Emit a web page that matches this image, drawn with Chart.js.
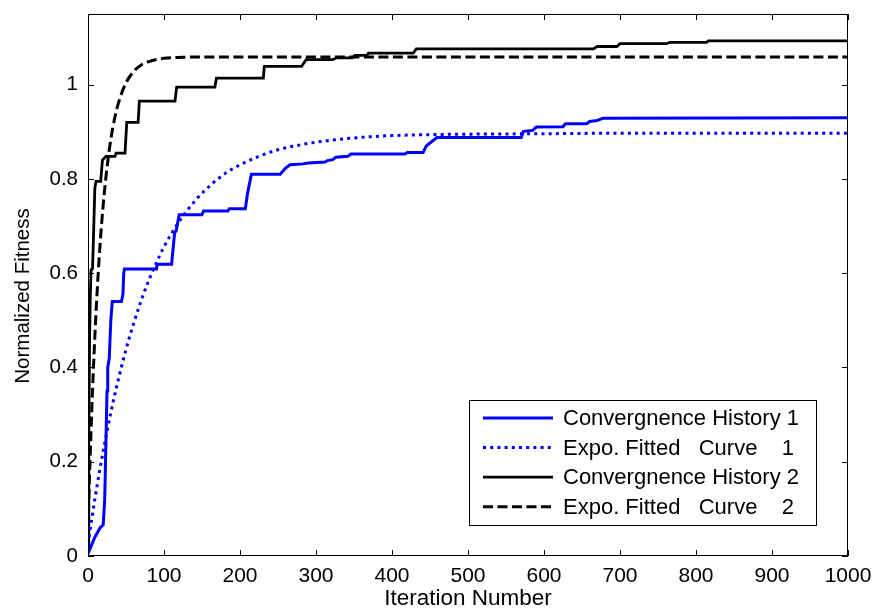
<!DOCTYPE html>
<html>
<head>
<meta charset="utf-8">
<script src="https://cdn.jsdelivr.net/npm/chart.js@4.4.0/dist/chart.umd.min.js"></script>
<style>
html,body{margin:0;padding:0;background:#fff;}
#wrap{width:874px;height:609px;position:relative;}
</style>
</head>
<body>
<div id="wrap"><canvas id="c" width="874" height="609"></canvas></div>
<script>
// ---- data ----
const xTicks = [0, 100, 200, 300, 400, 500, 600, 700, 800, 900, 1000];
const yTicks = [0, 0.2, 0.4, 0.6, 0.8, 1];
const xTickLabels = ['0','100','200','300','400','500','600','700','800','900','1000'];
const yTickLabels = ['0','0.2','0.4','0.6','0.8','1'];
const xTitle = 'Iteration Number';
const yTitle = 'Normalized Fitness';

const seriesNames = [
  'Convergnence History 1',
  'Expo. Fitted   Curve    1',
  'Convergnence History 2',
  'Expo. Fitted   Curve    2'
];

// Convergence history 1 (blue, solid)
const hist1X = [0, 9, 16, 20, 22, 25, 26, 28, 30, 32, 44, 46, 47, 48, 90, 91, 110, 114, 116, 120, 150, 152, 184, 186, 207, 210, 215, 253, 256, 260, 266, 283, 290, 312, 315, 322, 326, 342, 346, 417, 420, 441, 445, 459, 570, 573, 585, 590, 625, 628, 656, 660, 670, 678, 1000];
const hist1Y = [0.005, 0.04, 0.06, 0.066, 0.12, 0.35, 0.40, 0.42, 0.50, 0.54, 0.54, 0.556, 0.60, 0.609, 0.609, 0.619, 0.619, 0.686, 0.69, 0.724, 0.724, 0.732, 0.732, 0.737, 0.737, 0.77, 0.81, 0.81, 0.816, 0.823, 0.83, 0.832, 0.834, 0.836, 0.839, 0.841, 0.846, 0.848, 0.853, 0.853, 0.856, 0.856, 0.87, 0.888, 0.888, 0.901, 0.903, 0.91, 0.911, 0.917, 0.917, 0.922, 0.924, 0.929, 0.93];

// Exponential fitted curve 1 (blue, dotted)
const fit1X = [0, 5, 10, 15, 20, 25, 30, 40, 50, 60, 70, 80, 90, 100, 120, 140, 160, 180, 200, 225, 250, 275, 300, 350, 400, 450, 500, 600, 700, 800, 900, 1000];
const fit1Y = [0.025, 0.079, 0.130, 0.178, 0.222, 0.264, 0.304, 0.375, 0.438, 0.493, 0.542, 0.585, 0.622, 0.656, 0.710, 0.752, 0.785, 0.811, 0.830, 0.848, 0.862, 0.871, 0.878, 0.887, 0.892, 0.894, 0.895, 0.896, 0.897, 0.897, 0.897, 0.897];

// Convergence history 2 (black, solid)
const hist2X = [0, 1, 2, 3, 4, 6, 9, 10.5, 16.7, 19, 23.7, 35.5, 37, 48.7, 51, 66, 67.5, 114.5, 116.7, 167, 169, 230.7, 232, 281, 284, 287, 322, 327, 348, 351, 367, 369, 428, 432, 665, 670, 696, 700, 761, 766, 814, 816, 1000];
const hist2Y = [0.02, 0.25, 0.45, 0.55, 0.607, 0.61, 0.78, 0.795, 0.795, 0.84, 0.848, 0.848, 0.855, 0.855, 0.92, 0.92, 0.965, 0.965, 0.995, 0.995, 1.014, 1.014, 1.039, 1.039, 1.046, 1.053, 1.053, 1.057, 1.057, 1.062, 1.062, 1.067, 1.067, 1.076, 1.076, 1.081, 1.081, 1.087, 1.087, 1.090, 1.090, 1.093, 1.093];

// Exponential fitted curve 2 (black, dashed)
const fit2X = [0, 2, 4, 6, 8, 10, 12, 15, 18, 21, 25, 30, 35, 40, 50, 60, 70, 80, 100, 125, 150, 200, 300, 400, 500, 600, 700, 800, 900, 1000];
const fit2Y = [0.059, 0.169, 0.266, 0.353, 0.430, 0.499, 0.560, 0.640, 0.707, 0.763, 0.824, 0.884, 0.928, 0.961, 1.004, 1.028, 1.042, 1.049, 1.056, 1.058, 1.059, 1.059, 1.059, 1.059, 1.059, 1.059, 1.059, 1.059, 1.059, 1.059];

const xMin = 0, xMax = 1000, yMin = 0, yMax = 1.15;

// ---- helpers ----
const pts = (xs, ys) => xs.map((x, i) => ({x: x, y: ys[i]}));
const FONT = '"Liberation Sans", Arial, sans-serif';

// frame with inward ticks (MATLAB style), y label, in-axes legend box
const matlabAxes = {
  id: 'matlabAxes',
  afterDatasetsDraw(chart) {
    const {ctx, chartArea: a, scales} = chart;
    ctx.save();
    ctx.strokeStyle = '#000';
    ctx.lineWidth = 1;
    ctx.strokeRect(a.left + 0.5, a.top + 0.5, a.right - a.left - 1, a.bottom - a.top - 1);
    const tl = 6;
    ctx.beginPath();
    xTicks.forEach(v => {
      const px = Math.round(scales.x.getPixelForValue(v)) + 0.5;
      ctx.moveTo(px, a.bottom); ctx.lineTo(px, a.bottom - tl);
      ctx.moveTo(px, a.top); ctx.lineTo(px, a.top + tl);
    });
    yTicks.forEach(v => {
      const py = Math.round(scales.y.getPixelForValue(v)) + 0.5;
      ctx.moveTo(a.left, py); ctx.lineTo(a.left + tl, py);
      ctx.moveTo(a.right, py); ctx.lineTo(a.right - tl, py);
    });
    ctx.stroke();
    // y axis label (MATLAB places it slightly below the axis centre)
    ctx.translate(23, (a.top + a.bottom) / 2 + 11);
    ctx.rotate(-Math.PI / 2);
    ctx.fillStyle = '#000';
    ctx.font = '20.5px ' + FONT;
    ctx.textAlign = 'center';
    ctx.textBaseline = 'middle';
    ctx.fillText(yTitle, 0, 0);
    ctx.restore();
  },
  afterDraw(chart) {
    const {ctx, chartArea: a} = chart;
    const right = a.right - 31, bottom = a.bottom - 30;
    const left = right - 348, top = bottom - 126;
    ctx.save();
    ctx.fillStyle = '#fff';
    ctx.fillRect(left, top, right - left, bottom - top);
    ctx.strokeStyle = '#000';
    ctx.lineWidth = 1;
    ctx.setLineDash([]);
    ctx.strokeRect(left + 0.5, top + 0.5, right - left - 1, bottom - top - 1);
    ctx.font = '22px ' + FONT;
    ctx.textBaseline = 'middle';
    ctx.textAlign = 'left';
    chart.data.datasets.forEach((ds, i) => {
      const y = top + 18 + i * 29.6;
      ctx.beginPath();
      ctx.strokeStyle = ds.borderColor;
      ctx.lineWidth = ds.borderWidth;
      ctx.setLineDash(ds.borderDash || []);
      ctx.moveTo(left + 14, y);
      ctx.lineTo(left + 84, y);
      ctx.stroke();
      ctx.setLineDash([]);
      ctx.fillStyle = '#000';
      ctx.fillText(ds.label, left + 94, y + 1);
    });
    ctx.restore();
  }
};

new Chart(document.getElementById('c'), {
  type: 'line',
  data: {
    datasets: [
      {label: seriesNames[0], data: pts(hist1X, hist1Y), borderColor: '#0000ff', borderWidth: 3, pointRadius: 0, tension: 0, fill: false},
      {label: seriesNames[1], data: pts(fit1X, fit1Y), borderColor: '#0000ff', borderWidth: 3, borderDash: [3, 4.2], pointRadius: 0, tension: 0.3, cubicInterpolationMode: 'monotone', fill: false},
      {label: seriesNames[2], data: pts(hist2X, hist2Y), borderColor: '#000000', borderWidth: 2.8, pointRadius: 0, tension: 0, fill: false},
      {label: seriesNames[3], data: pts(fit2X, fit2Y), borderColor: '#000000', borderWidth: 3, borderDash: [10, 4.5], pointRadius: 0, tension: 0.3, cubicInterpolationMode: 'monotone', fill: false}
    ]
  },
  options: {
    responsive: false,
    animation: false,
    devicePixelRatio: 1,
    layout: {padding: {top: 14, right: 26, left: 0, bottom: 0}},
    plugins: {legend: {display: false}, tooltip: {enabled: false}},
    scales: {
      x: {
        type: 'linear', min: xMin, max: xMax,
        afterBuildTicks: s => { s.ticks = xTicks.map(v => ({value: v})); },
        afterFit: s => { s.height = 53; s.paddingLeft = 0; s.paddingRight = 0; },
        grid: {display: false, drawTicks: false},
        border: {display: false},
        ticks: {
          callback: (v) => xTickLabels[xTicks.indexOf(v)],
          color: '#000', font: {family: FONT, size: 21}, padding: 8, maxRotation: 0, autoSkip: false
        },
        title: {display: true, text: xTitle, color: '#000', font: {family: FONT, size: 22.5, lineHeight: 1}, padding: {top: 0, bottom: -1}}
      },
      y: {
        type: 'linear', min: yMin, max: yMax,
        afterBuildTicks: s => { s.ticks = yTicks.map(v => ({value: v})); },
        afterFit: s => { s.width = 88; s.paddingTop = 0; s.paddingBottom = 0; },
        grid: {display: false, drawTicks: false},
        border: {display: false},
        ticks: {
          callback: (v) => yTickLabels[yTicks.indexOf(v)],
          color: '#000', font: {family: FONT, size: 20.5}, padding: 10, autoSkip: false
        },
        title: {display: false}
      }
    }
  },
  plugins: [matlabAxes]
});
</script>
</body>
</html>
